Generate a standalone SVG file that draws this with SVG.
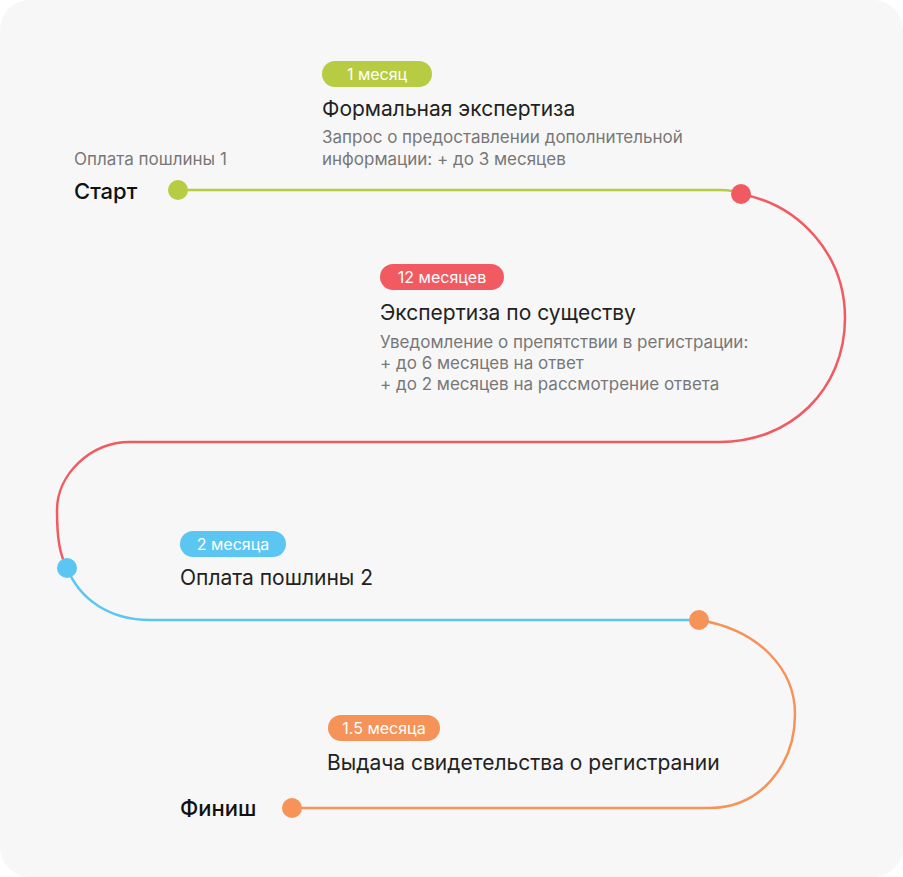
<svg xmlns="http://www.w3.org/2000/svg" width="903" height="877" viewBox="0 0 903 877">
<style>
text{font-family:Inter,"Noto Sans",sans-serif}
.t{font-size:21px;fill:#222}
.b{font-size:22px;fill:#111;font-weight:500}
.s{font-size:17px;fill:#777}
.p{font-size:16px;fill:#fff}
.l{fill:none;stroke-width:2.5}
</style>
<rect width="903" height="877" fill="#fff"/>
<rect x="0" y="0" width="903" height="877" rx="30" fill="#f7f7f7"/>
<g id="connectors">
<path class="l" stroke="#b7cc42" d="M178,190 L720,190 C730,190 736,191 741,194"/>
<path class="l" stroke="#f25a62" d="M741,194 C800,205 845,255 845,318 C845,390 790,442 720,442 L130,442 C90,442 57,475 57,510 C57,540 60,555 67,568"/>
<path class="l" stroke="#5bc6f2" d="M67,568 C80,600 110,620 150,620 L699,620"/>
<path class="l" stroke="#f59358" d="M699,620 C760,630 795,670 795,714 C795,765 760,808 710,808 L292,808"/>
</g>
<g id="start">
<circle cx="178" cy="190" r="10" fill="#b7cc42"/>
<text class="s" x="74" y="165">Оплата пошлины 1</text>
<text class="b" x="74" y="199">Старт</text>
</g>
<g id="step1">
<circle cx="741" cy="194" r="10" fill="#f25a62"/>
<rect x="322" y="61" width="110" height="26" rx="13" fill="#b7cc42"/>
<text class="p" x="377" y="80" text-anchor="middle">1 месяц</text>
<text class="t" x="322" y="116">Формальная экспертиза</text>
<text class="s" x="322" y="143">Запрос о предоставлении дополнительной</text>
<text class="s" x="322" y="165">информации: + до 3 месяцев</text>
</g>
<g id="step2">
<rect x="380" y="264" width="124" height="26" rx="13" fill="#f25a62"/>
<text class="p" x="442" y="283" text-anchor="middle">12 месяцев</text>
<text class="t" x="380" y="320">Экспертиза по существу</text>
<text class="s" x="380" y="348">Уведомление о препятствии в регистрации:</text>
<text class="s" x="380" y="369">+ до 6 месяцев на ответ</text>
<text class="s" x="380" y="390">+ до 2 месяцев на рассмотрение ответа</text>
</g>
<g id="step3">
<circle cx="67" cy="568" r="10" fill="#5bc6f2"/>
<rect x="180" y="531" width="106" height="26" rx="13" fill="#5bc6f2"/>
<text class="p" x="233" y="550" text-anchor="middle">2 месяца</text>
<text class="t" x="180" y="585">Оплата пошлины 2</text>
</g>
<g id="step4">
<circle cx="699" cy="620" r="10" fill="#f59358"/>
<rect x="328" y="715" width="112" height="26" rx="13" fill="#f59358"/>
<text class="p" x="384" y="734" text-anchor="middle">1.5 месяца</text>
<text class="t" x="327" y="770">Выдача свидетельства о регистрании</text>
</g>
<g id="finish">
<circle cx="292" cy="808" r="10" fill="#f59358"/>
<text class="b" x="180" y="816">Финиш</text>
</g>
</svg>
